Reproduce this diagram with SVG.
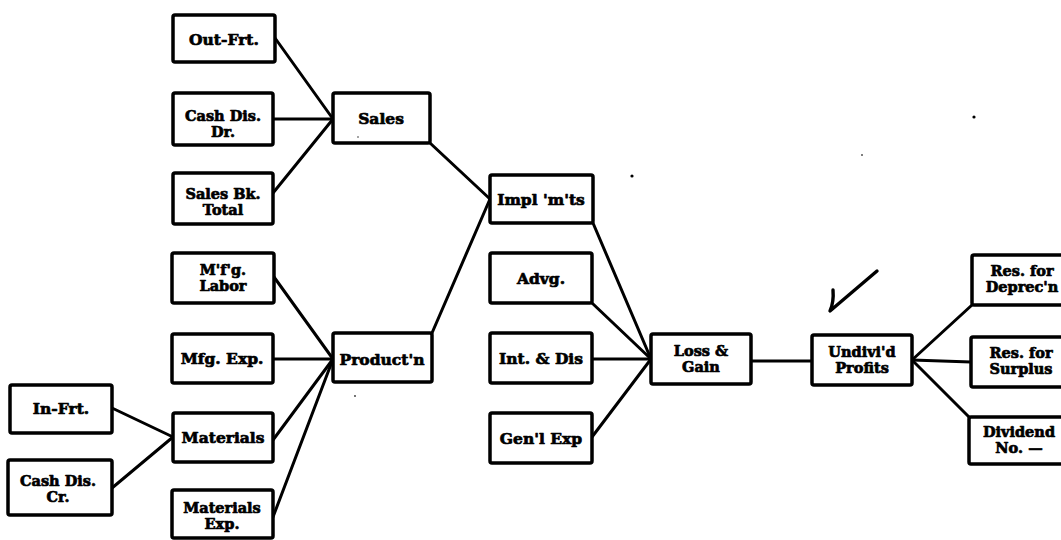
<svg xmlns="http://www.w3.org/2000/svg" width="1061" height="540" viewBox="0 0 1061 540">
  <style>
    .box { fill: #fff; stroke: #000; stroke-width: 3.5; }
    .lbl { font-family: "DejaVu Serif", "Liberation Serif", serif; font-weight: bold; font-size: 15.5px; fill: #000; stroke: #000; stroke-width: 0.7; stroke-linejoin: round; text-anchor: middle; }
    .two { font-size: 14.5px; }
    .wire { stroke: #000; stroke-width: 3; stroke-linecap: round; fill: none; }
  </style>
  <rect width="1061" height="540" fill="#fff"/>

  <!-- connectors -->
  <g id="connectors" class="wire">
    <line x1="275" y1="38" x2="333" y2="119"/>
    <line x1="273" y1="119" x2="333" y2="119"/>
    <line x1="273" y1="193" x2="333" y2="119"/>
    <line x1="274" y1="277" x2="333" y2="359"/>
    <line x1="273" y1="359" x2="333" y2="359"/>
    <line x1="273" y1="440" x2="333" y2="359"/>
    <line x1="273" y1="517" x2="333" y2="359"/>
    <line x1="112" y1="408" x2="173" y2="437"/>
    <line x1="112" y1="488" x2="173" y2="437"/>
    <line x1="430" y1="143" x2="490" y2="199"/>
    <line x1="432" y1="333" x2="490" y2="199"/>
    <line x1="593" y1="223" x2="651" y2="359"/>
    <line x1="592" y1="303" x2="651" y2="359"/>
    <line x1="592" y1="359" x2="651" y2="359"/>
    <line x1="592" y1="437" x2="651" y2="359"/>
    <line x1="751" y1="361" x2="812" y2="361"/>
    <line x1="912" y1="360" x2="972" y2="305"/>
    <line x1="912" y1="360" x2="971" y2="362"/>
    <line x1="912" y1="360" x2="969" y2="417"/>
  </g>

  <!-- accounts -->
  <g id="out-frt"><rect class="box" x="173" y="15" width="102" height="47" rx="2"/><text class="lbl" x="224" y="45">Out-Frt.</text></g>
  <g id="cash-dis-dr"><rect class="box" x="173" y="93" width="100" height="52" rx="2"/><text class="lbl two" x="223" y="121">Cash Dis.</text><text class="lbl two" x="223" y="137">Dr.</text></g>
  <g id="sales-bk-total"><rect class="box" x="173" y="173" width="100" height="51" rx="2"/><text class="lbl two" x="223" y="199">Sales Bk.</text><text class="lbl two" x="223" y="215">Total</text></g>
  <g id="sales"><rect class="box" x="333" y="93" width="97" height="50" rx="2"/><text class="lbl" x="381" y="124">Sales</text></g>

  <g id="mfg-labor"><rect class="box" x="172" y="253" width="102" height="50" rx="2"/><text class="lbl two" x="223" y="275">M'f'g.</text><text class="lbl two" x="223" y="291">Labor</text></g>
  <g id="mfg-exp"><rect class="box" x="172" y="334" width="101" height="49" rx="2"/><text class="lbl" x="222" y="364">Mfg. Exp.</text></g>
  <g id="materials"><rect class="box" x="173" y="413" width="100" height="49" rx="2"/><text class="lbl" x="223" y="443">Materials</text></g>
  <g id="materials-exp"><rect class="box" x="172" y="490" width="101" height="48" rx="2"/><text class="lbl two" x="222" y="513">Materials</text><text class="lbl two" x="222" y="529">Exp.</text></g>

  <g id="in-frt"><rect class="box" x="10" y="385" width="102" height="48" rx="2"/><text class="lbl" x="61" y="414">In-Frt.</text></g>
  <g id="cash-dis-cr"><rect class="box" x="8" y="460" width="104" height="55" rx="2"/><text class="lbl two" x="58" y="486">Cash Dis.</text><text class="lbl two" x="58" y="502">Cr.</text></g>

  <g id="production"><rect class="box" x="333" y="333" width="99" height="49" rx="2"/><text class="lbl" x="382" y="365">Product'n</text></g>

  <g id="implements"><rect class="box" x="490" y="175" width="103" height="48" rx="2"/><text class="lbl" x="541" y="205">Impl 'm'ts</text></g>
  <g id="advg"><rect class="box" x="490" y="253" width="102" height="50" rx="2"/><text class="lbl" x="541" y="284">Advg.</text></g>
  <g id="int-dis"><rect class="box" x="490" y="333" width="102" height="50" rx="2"/><text class="lbl" x="541" y="364">Int. &amp; Dis</text></g>
  <g id="gen-exp"><rect class="box" x="490" y="413" width="102" height="50" rx="2"/><text class="lbl" x="541" y="444">Gen'l Exp</text></g>

  <g id="loss-gain"><rect class="box" x="651" y="334" width="100" height="50" rx="2"/><text class="lbl two" x="701" y="356">Loss &amp;</text><text class="lbl two" x="701" y="372">Gain</text></g>
  <g id="undivided-profits"><rect class="box" x="812" y="335" width="100" height="50" rx="2"/><text class="lbl two" x="862" y="357">Undivi'd</text><text class="lbl two" x="862" y="373">Profits</text></g>

  <g id="res-deprec"><rect class="box" x="972" y="255" width="100" height="50" rx="2"/><text class="lbl two" x="1022" y="276">Res. for</text><text class="lbl two" x="1022" y="292">Deprec'n</text></g>
  <g id="res-surplus"><rect class="box" x="971" y="337" width="100" height="50" rx="2"/><text class="lbl two" x="1021" y="358">Res. for</text><text class="lbl two" x="1021" y="374">Surplus</text></g>
  <g id="dividend"><rect class="box" x="969" y="417" width="100" height="47" rx="2"/><text class="lbl two" x="1019" y="437">Dividend</text><text class="lbl two" x="1019" y="453">No. —</text></g>

  <!-- pencilled check mark and stray marks -->
  <path d="M 833 290 Q 834 302 830 311 L 877 271" fill="none" stroke="#000" stroke-width="3.4" stroke-linecap="round" stroke-linejoin="round"/>
  <circle cx="974" cy="117" r="1.6" fill="#000"/>
  <circle cx="632" cy="176" r="1.6" fill="#000"/>
  <circle cx="862" cy="155" r="1" fill="#555"/>
  <circle cx="358" cy="137" r="0.8" fill="#333"/>
  <circle cx="355" cy="396" r="0.9" fill="#333"/>
</svg>
